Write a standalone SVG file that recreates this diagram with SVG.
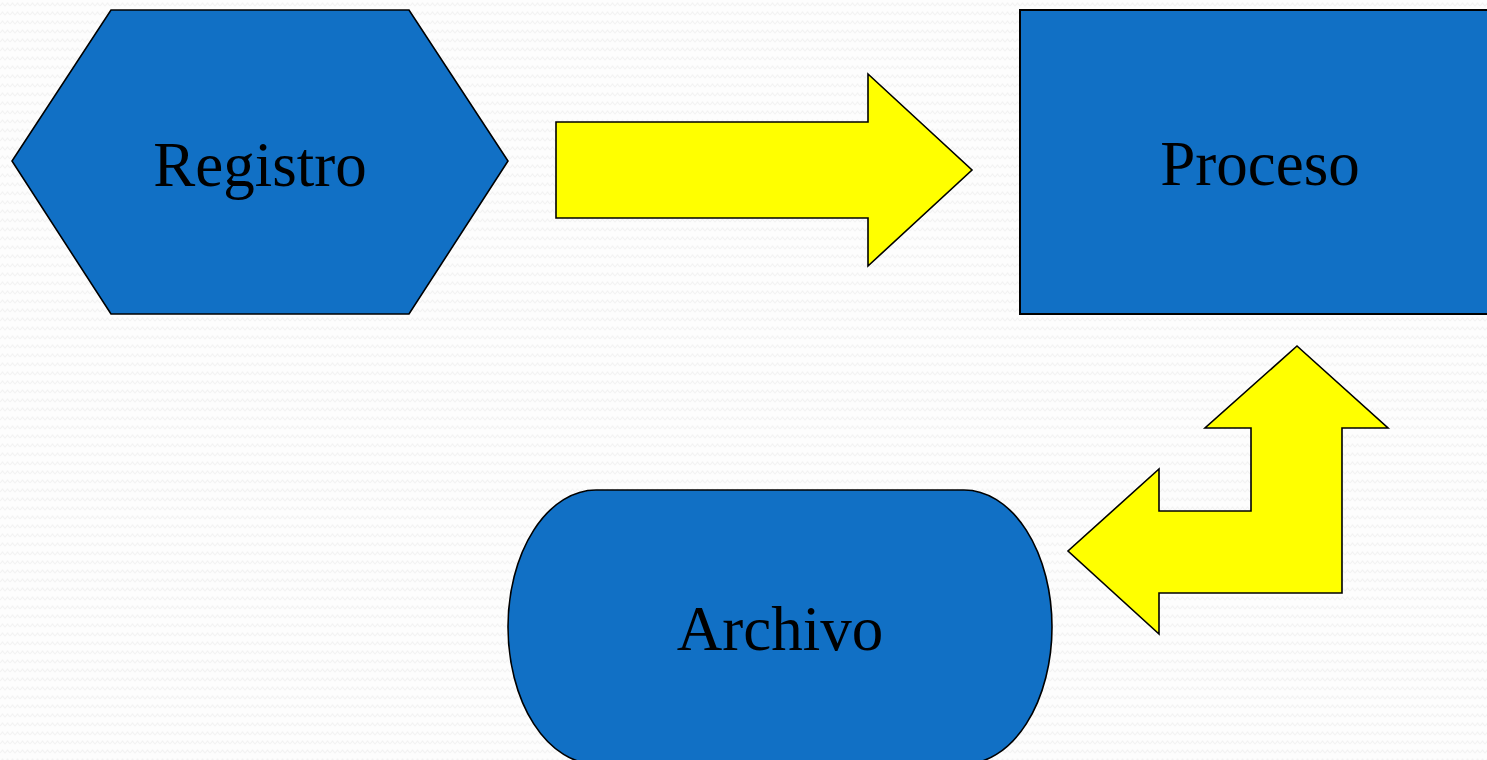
<svg xmlns="http://www.w3.org/2000/svg" width="1487" height="760" viewBox="0 0 1487 760">
  <style>
    .node { fill: #1170C5; stroke: #000; stroke-width: 1.6; }
    .arrow { fill: #FFFF00; stroke: #000; stroke-width: 1.6; stroke-linejoin: miter; }
    .label { font-family: "Liberation Serif", "Times New Roman", serif; font-size: 63px; fill: #000; text-anchor: middle; }
  </style>
  <defs>
    <pattern id="bg" width="10" height="9" patternUnits="userSpaceOnUse">
      <rect width="10" height="9" fill="#fdfdfd"/>
      <polyline points="0,6 2.5,3 5,6 7.5,3 10,6" fill="none" stroke="#f2f2f2" stroke-width="1.1"/>
    </pattern>
  </defs>
  <rect width="1487" height="760" fill="url(#bg)"/>

  <g id="registro">
    <polygon class="node" points="111,10 409,10 508,161 409,314 111,314 12,161"/>
    <text class="label" x="260" y="186">Registro</text>
  </g>

  <g id="proceso">
    <rect class="node" x="1020" y="10" width="479" height="304" style="stroke-width:2"/>
    <text class="label" x="1260" y="185">Proceso</text>
  </g>

  <g id="archivo">
    <rect class="node" x="508" y="490" width="544" height="274" rx="88" ry="137"/>
    <text class="label" x="780" y="650">Archivo</text>
  </g>

  <g id="connectors">
    <polygon class="arrow" points="556,122 868,122 868,74 972,170 868,266 868,218 556,218"/>
    <polygon class="arrow" points="1297,346 1388,428 1342,428 1342,593 1159,593 1159,634 1068,551 1159,469 1159,511 1251,511 1251,428 1205,428"/>
  </g>
</svg>
